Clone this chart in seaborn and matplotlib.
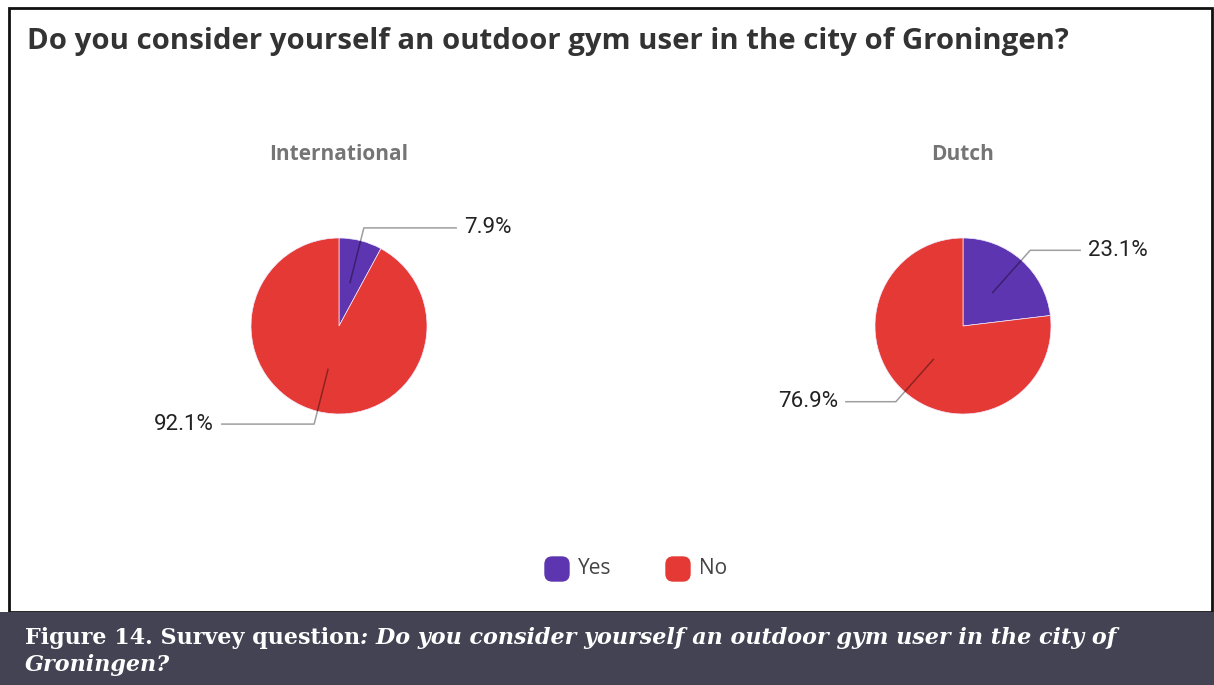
import numpy as np
import matplotlib
matplotlib.use("Agg")
import matplotlib.pyplot as plt
from matplotlib.patches import FancyBboxPatch, Rectangle
import seaborn as sns

# Survey results (share of respondents, %)
groups = ["International", "Dutch"]
answers = ["Yes", "No"]
international_pct = [7.9, 92.1]
dutch_pct = [23.1, 76.9]
colors = ["#5E35B1", "#E53935"]

title = "Do you consider yourself an outdoor gym user in the city of Groningen?"
caption_bold = "Figure 14. Survey question"
caption_italic = ": Do you consider yourself an outdoor gym user in the city of"
caption_line2 = "Groningen?"

sns.set_theme(style="white")
plt.rcParams["font.family"] = ["Open Sans", "DejaVu Sans"]

W, H = 1214, 685
fig = plt.figure(figsize=(W / 100, H / 100), dpi=100)
fig.patch.set_facecolor("white")

# frame around the chart area
fig.add_artist(Rectangle((9 / W, (H - 612) / H), (W - 11) / W, (612 - 8) / H,
                         transform=fig.transFigure, fill=False,
                         edgecolor="#111111", linewidth=2))

fig.text(27 / W, 1 - 42 / H, title, fontsize=21.2, fontweight="bold",
         color="#333333", va="center", ha="left")

R_PX = 88.0
L = 2.0  # axes half-span in pie radii


def draw_pie(cx, cy, values, name):
    side = 2 * L * R_PX
    ax = fig.add_axes([(cx - side / 2) / W, (H - cy - side / 2) / H, side / W, side / H])
    wedges, _ = ax.pie(values, colors=colors, startangle=90, counterclock=False,
                       radius=1.0, wedgeprops=dict(linewidth=0.5, edgecolor="#f0eaff"))
    ax.set_xlim(-L, L)
    ax.set_ylim(-L, L)
    ax.set_aspect("equal")
    ax.axis("off")
    for w, v in zip(wedges, values):
        mid = np.deg2rad((w.theta1 + w.theta2) / 2)
        x0, y0 = 0.5 * np.cos(mid), 0.5 * np.sin(mid)
        x1, y1 = 1.15 * np.cos(mid), 1.15 * np.sin(mid)
        side_sign = 1 if np.cos(mid) >= 0 else -1
        x2 = side_sign * 1.34
        ax.plot([x0, x1, x2], [y0, y1, y1], color="black", alpha=0.38,
                linewidth=1.1, solid_capstyle="butt")
        ax.text(side_sign * 1.42, y1, f"{v:.1f}%", fontsize=16,
                family=["Roboto", "DejaVu Sans"], color="#222222",
                ha="left" if side_sign > 0 else "right", va="center")
    fig.text(cx / W, 1 - 154 / H, name, fontsize=15, fontweight="bold",
             color="#757575", ha="center", va="center")


draw_pie(339, 326, international_pct, groups[0])
draw_pie(963, 326, dutch_pct, groups[1])

# legend
for (x_box, x_txt), label, c in zip([(545, 578), (666, 699)], answers, colors):
    fig.add_artist(FancyBboxPatch((x_box / W, 1 - 581 / H), 24 / W, 24 / H,
                                  boxstyle="round,pad=0,rounding_size=0.006",
                                  transform=fig.transFigure, facecolor=c,
                                  edgecolor=c, linewidth=1, mutation_aspect=W / H))
    fig.text(x_txt / W, 1 - 568 / H, label, fontsize=15, color="#444444",
             ha="left", va="center")

# caption band
fig.add_artist(Rectangle((0, 0), 1, (H - 612) / H, transform=fig.transFigure,
                         facecolor="#434354", edgecolor="none"))
serif = ["DejaVu Serif"]
t1 = fig.text(25 / W, 1 - 638 / H, caption_bold, fontsize=16, fontweight="bold",
              family=serif, color="white", ha="left", va="center")
fig.canvas.draw()
bb = t1.get_window_extent()
fig.text(bb.x1 / W, 1 - 638 / H, caption_italic, fontsize=16, fontweight="bold",
         style="italic", family=serif, color="white", ha="left", va="center")
fig.text(25 / W, 1 - 665 / H, caption_line2, fontsize=16, fontweight="bold",
         style="italic", family=serif, color="white", ha="left", va="center")

fig.savefig("out.png", dpi=100, facecolor=fig.get_facecolor())
